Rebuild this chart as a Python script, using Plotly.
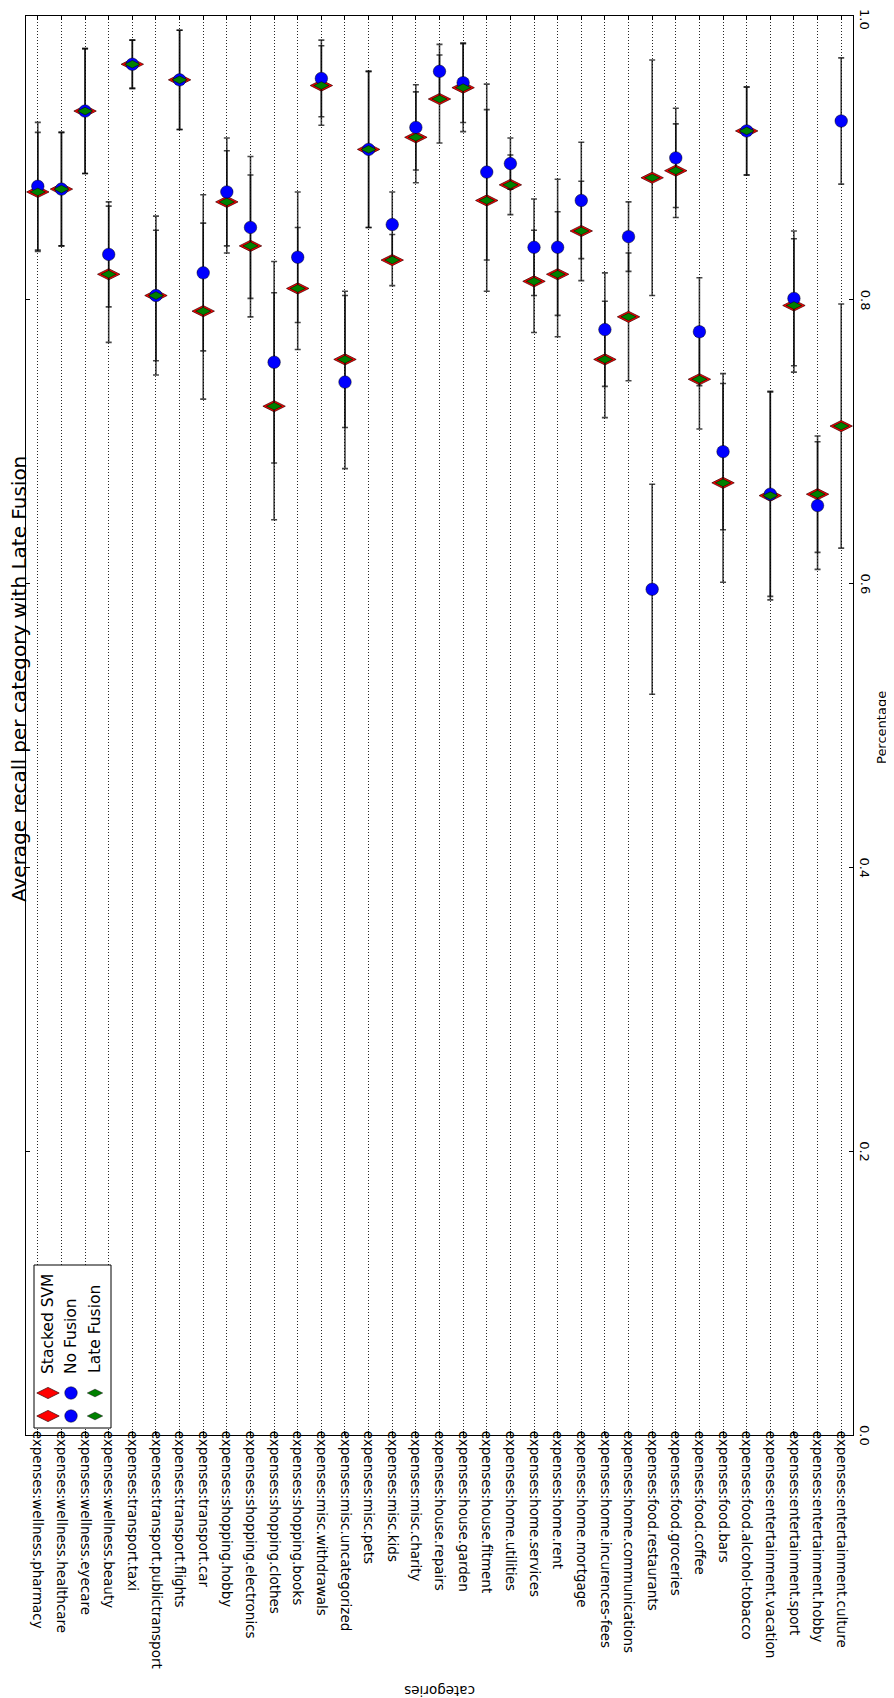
import plotly.graph_objects as go

categories = [
    "expenses:wellness.pharmacy", "expenses:wellness.healthcare", "expenses:wellness.eyecare",
    "expenses:wellness.beauty", "expenses:transport.taxi", "expenses:transport.publictransport",
    "expenses:transport.flights", "expenses:transport.car", "expenses:shopping.hobby",
    "expenses:shopping.electronics", "expenses:shopping.clothes", "expenses:shopping.books",
    "expenses:misc.withdrawals", "expenses:misc.uncategorized", "expenses:misc.pets",
    "expenses:misc.kids", "expenses:misc.charity", "expenses:house.repairs",
    "expenses:house.garden", "expenses:house.fitment", "expenses:home.utilities",
    "expenses:home.services", "expenses:home.rent", "expenses:home.mortgage",
    "expenses:home.incurences-fees", "expenses:home.communications", "expenses:food.restaurants",
    "expenses:food.groceries", "expenses:food.coffee", "expenses:food.bars",
    "expenses:food.alcohol-tobacco", "expenses:entertainment.vacation", "expenses:entertainment.sport",
    "expenses:entertainment.hobby", "expenses:entertainment.culture",
]

stacked_svm = [0.876, 0.878, 0.933, 0.818, 0.966, 0.803, 0.955, 0.792, 0.869, 0.838,
               0.725, 0.808, 0.951, 0.758, 0.906, 0.828, 0.9145, 0.9415, 0.9495, 0.870,
               0.881, 0.813, 0.818, 0.8485, 0.758, 0.788, 0.886, 0.891, 0.744, 0.671,
               0.919, 0.662, 0.796, 0.663, 0.711]
stacked_svm_err = [0.042, 0.040, 0.044, 0.048, 0.017, 0.046, 0.035, 0.062, 0.036, 0.050,
                   0.080, 0.043, 0.028, 0.048, 0.055, 0.018, 0.032, 0.031, 0.031, 0.064,
                   0.021, 0.036, 0.044, 0.035, 0.041, 0.045, 0.083, 0.033, 0.035, 0.070,
                   0.031, 0.0735, 0.047, 0.041, 0.086]

no_fusion = [0.880, 0.878, 0.933, 0.832, 0.966, 0.803, 0.955, 0.819, 0.876, 0.851,
             0.756, 0.830, 0.956, 0.742, 0.906, 0.853, 0.9215, 0.961, 0.953, 0.890,
             0.896, 0.837, 0.837, 0.870, 0.779, 0.8445, 0.596, 0.900, 0.7775, 0.693,
             0.919, 0.663, 0.801, 0.655, 0.926]
no_fusion_err = [0.045, 0.040, 0.044, 0.037, 0.017, 0.056, 0.035, 0.055, 0.038, 0.050,
                 0.071, 0.046, 0.027, 0.061, 0.055, 0.023, 0.030, 0.019, 0.028, 0.062,
                 0.018, 0.034, 0.048, 0.041, 0.040, 0.0245, 0.074, 0.035, 0.038, 0.055,
                 0.031, 0.072, 0.0475, 0.045, 0.0445]

late_fusion = [0.876, 0.878, 0.933, 0.818, 0.966, 0.803, 0.955, 0.792, 0.869, 0.838,
               0.725, 0.808, 0.951, 0.758, 0.906, 0.828, 0.9145, 0.9415, 0.9495, 0.870,
               0.881, 0.813, 0.818, 0.8485, 0.758, 0.788, 0.886, 0.891, 0.744, 0.671,
               0.919, 0.662, 0.796, 0.663, 0.711]

y_ticks = [0.0, 0.2, 0.4, 0.6, 0.8, 1.0]
y_tick_labels = ["0.0", "0.2", "0.4", "0.6", "0.8", "1.0"]

series_names = ["Stacked SVM", "No Fusion", "Late Fusion"]

FONT = "DejaVu Sans"
PAGE_OFF = 8                       # default body margin of the html page
W, H = 894 - PAGE_OFF, 1698 - PAGE_OFF
# plot area in page pixels
L, R, T, B = 26, 853, 16, 1435
pw, ph = R - L, B - T


def px_x(p):
    return (p - L) / pw


def px_y(p):
    return (B - p) / ph


err_style = dict(type="data", color="rgba(0,0,0,0.72)", thickness=1.6, width=3)
red_style = dict(symbol="diamond-wide", size=16, color="#ff0000",
                 line=dict(color="rgba(60,0,0,0.9)", width=0.8))
blue_style = dict(symbol="circle", size=12.5, color="#0000ff",
                  line=dict(color="rgba(0,0,0,0.8)", width=0.6))
green_style = dict(symbol="diamond-wide", size=11, color="#008000",
                   line=dict(color="rgba(0,0,0,0.8)", width=0.6))

fig = go.Figure()
fig.add_trace(go.Scatter(
    x=categories, y=stacked_svm, mode="markers", name=series_names[0], marker=red_style,
    error_y=dict(array=stacked_svm_err, **err_style), showlegend=False,
))
fig.add_trace(go.Scatter(
    x=categories, y=no_fusion, mode="markers", name=series_names[1], marker=blue_style,
    error_y=dict(array=no_fusion_err, **err_style), showlegend=False,
))
fig.add_trace(go.Scatter(
    x=categories, y=late_fusion, mode="markers", name=series_names[2], marker=green_style,
    showlegend=False,
))

# custom rotated legend drawn on an overlay axis spanning the plot area
bx0, bx1, by0, by1 = px_x(34), px_x(111), px_y(1428), px_y(1265)
fig.add_trace(go.Scatter(
    x=[bx0, bx1, bx1, bx0, bx0], y=[by0, by0, by1, by1, by0], mode="lines",
    fill="toself", fillcolor="white", line=dict(color="black", width=1),
    xaxis="x2", yaxis="y2", showlegend=False, hoverinfo="skip",
))
leg_key_x = [px_x(48), px_x(71), px_x(95)]
leg_key_y = [px_y(1393), px_y(1416)]
leg_text_center = [1324, 1336, 1329]
for i, (name, st) in enumerate(zip(series_names, [red_style, blue_style, green_style])):
    fig.add_trace(go.Scatter(
        x=[leg_key_x[i]] * 2, y=leg_key_y, mode="markers", marker=st,
        xaxis="x2", yaxis="y2", showlegend=False, hoverinfo="skip",
    ))
    fig.add_annotation(
        text=name, xref="paper", yref="paper", x=leg_key_x[i], y=px_y(leg_text_center[i]),
        xanchor="center", yanchor="middle", textangle=-90, showarrow=False,
        font=dict(family=FONT, size=15.5, color="black"),
    )

# percentage tick labels (rotated, centred on their ticks; the top one nudged inside the page)
for v, t in zip(y_ticks, y_tick_labels):
    fig.add_annotation(text=t, xref="paper", yref="y", x=px_x(865), y=v,
                       xanchor="center", yanchor="middle", textangle=90, showarrow=False,
                       yshift=-3 if v == y_ticks[-1] else 0,
                       font=dict(family=FONT, size=13, color="black"))

# title and axis labels (rotated)
fig.add_annotation(text="Average recall per category with Late Fusion", xref="paper", yref="paper",
                   x=px_x(19), y=px_y(679), xanchor="center", yanchor="middle", textangle=-90,
                   showarrow=False, font=dict(family=FONT, size=20, color="black"))
fig.add_annotation(text="Percentage", xref="paper", yref="paper",
                   x=px_x(881), y=px_y(727), xanchor="center", yanchor="middle", textangle=-90,
                   showarrow=False, font=dict(family=FONT, size=13, color="black"))
fig.add_annotation(text="categories", xref="paper", yref="paper",
                   x=px_x(440), y=px_y(1691), xanchor="center", yanchor="middle", textangle=180,
                   showarrow=False, font=dict(family=FONT, size=13.5, color="black"))

fig.update_layout(
    width=W, height=H,
    margin=dict(l=L - PAGE_OFF, r=W - (R - PAGE_OFF), t=T - PAGE_OFF, b=H - (B - PAGE_OFF), pad=0),
    paper_bgcolor="white", plot_bgcolor="white",
    font=dict(family=FONT, size=13.5, color="black"),
    showlegend=False,
    xaxis=dict(
        type="category", range=[-0.5, len(categories) - 0.5], automargin=False,
        tickangle=90, ticks="inside", ticklen=4, tickcolor="black",
        showline=True, linecolor="black", linewidth=1, mirror="ticks",
        showgrid=True, gridcolor="rgba(0,0,0,0.85)", griddash="1px,2px", gridwidth=1,
        tickfont=dict(family=FONT, size=13.5, color="black"), zeroline=False,
        ticklabelstandoff=-8,
    ),
    yaxis=dict(
        range=[0, 1], side="right", tickvals=y_ticks, showticklabels=False, automargin=False,
        ticks="inside", ticklen=4, tickcolor="black",
        showline=True, linecolor="black", linewidth=1, mirror="ticks",
        showgrid=False, zeroline=False,
    ),
    xaxis2=dict(overlaying="x", range=[0, 1], visible=False),
    yaxis2=dict(overlaying="y", range=[0, 1], visible=False),
)

fig.write_html("out.html")
